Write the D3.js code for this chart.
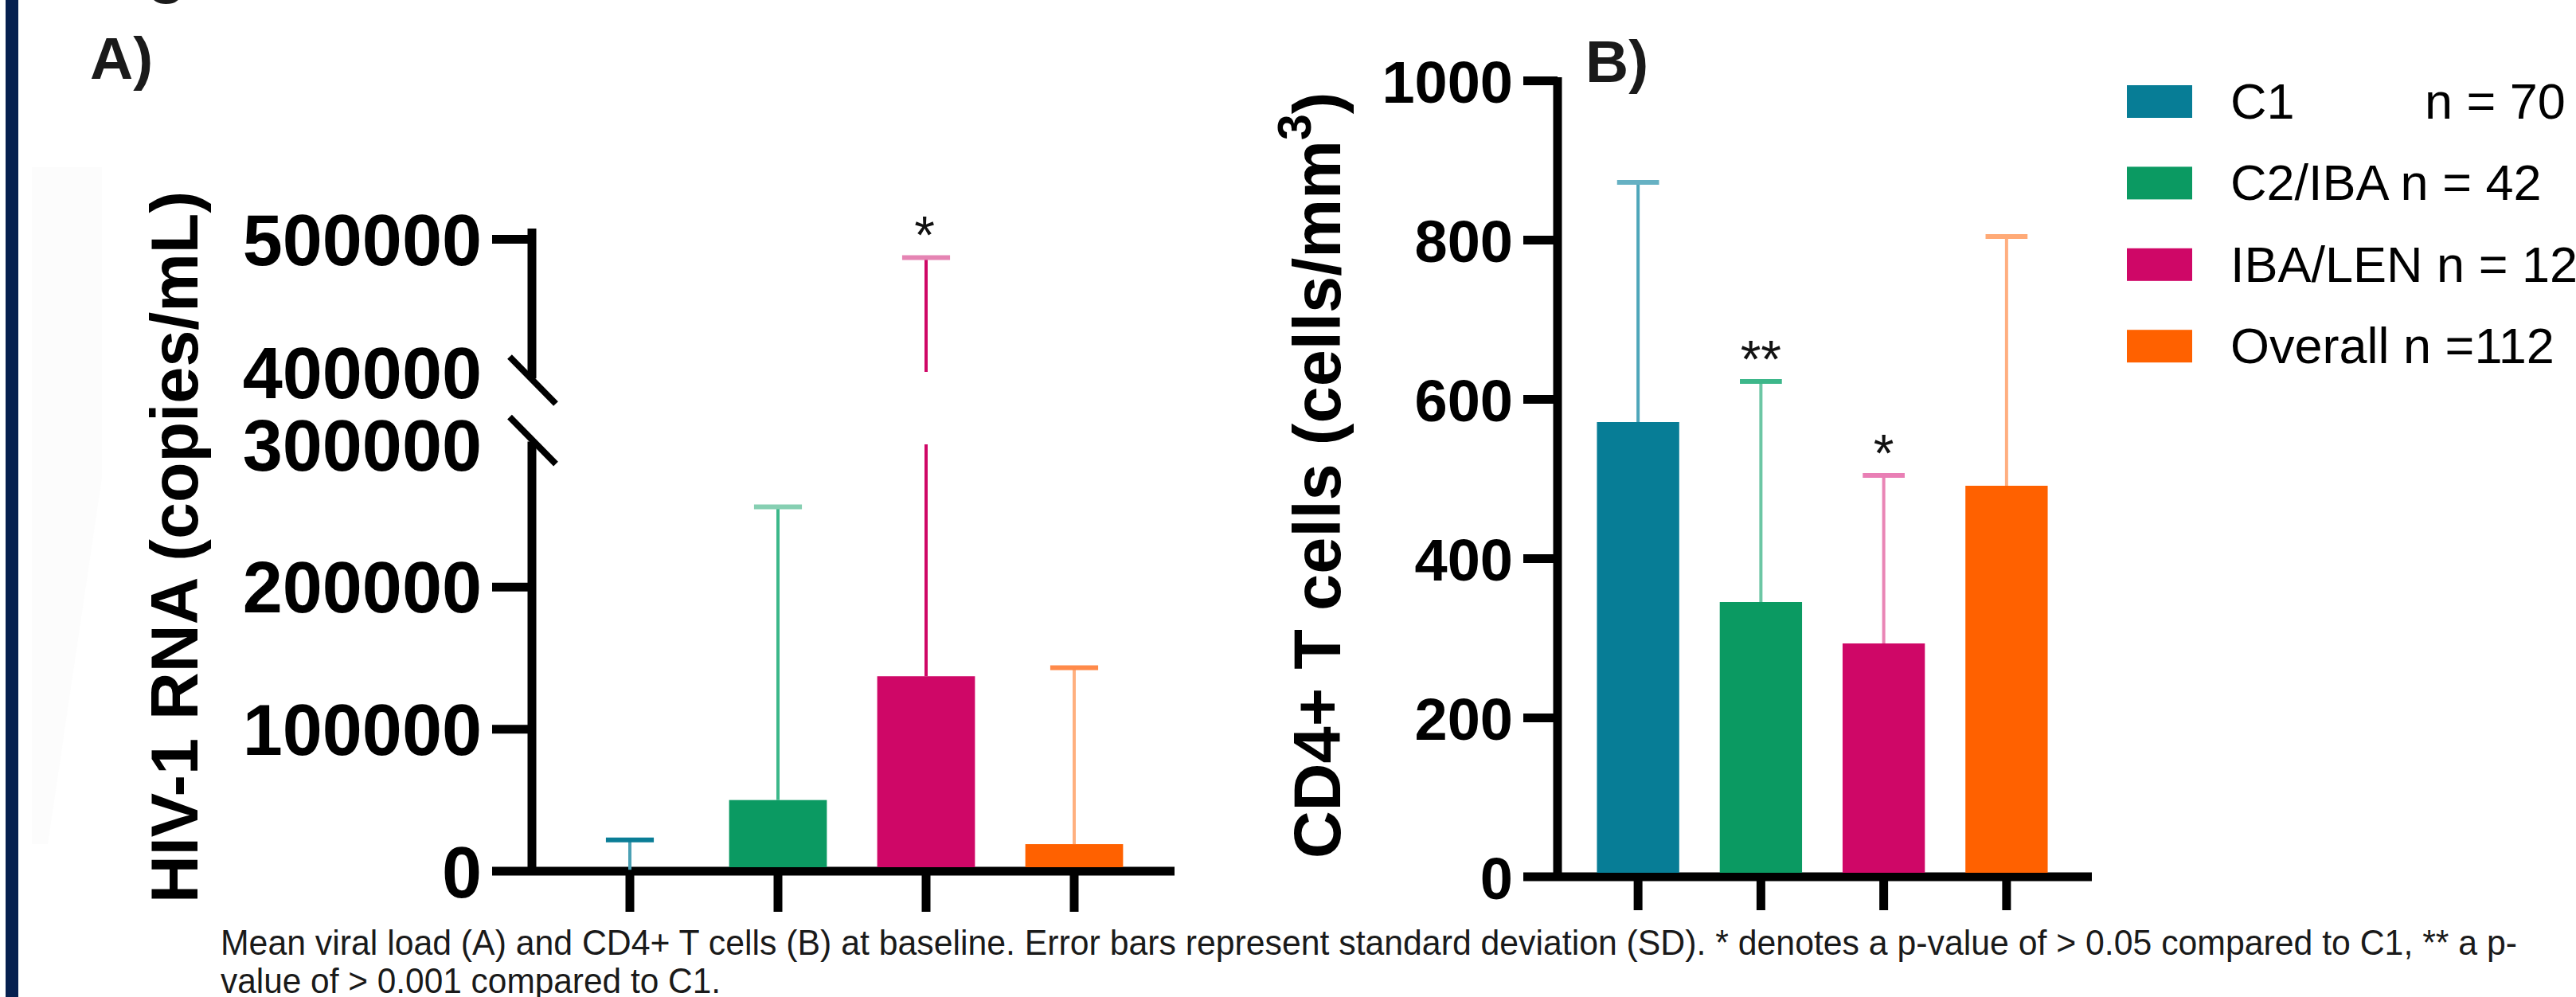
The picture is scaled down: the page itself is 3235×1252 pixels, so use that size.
<!DOCTYPE html>
<html>
<head>
<meta charset="utf-8">
<script src="https://cdn.jsdelivr.net/npm/d3@7"></script>
<style>
  html, body { margin: 0; padding: 0; background: #fff; }
  svg { display: block; }
  text { font-family: "Liberation Sans", Arial, sans-serif; }
</style>
</head>
<body>
<svg id="chart" width="3235" height="1252"></svg>
<script>
// ---------------- data ----------------
const categories = ["C1", "C2/IBA", "IBA/LEN", "Overall"];
const groupN = ["n = 70", "n = 42", "n = 12", "n =112"];
const viralMean = [1000, 50000, 137000, 19000];
const viralSD = [21000, 206000, 349000, 124000];
const viralStars = ["", "", "*", ""];
const viralTicksLow = [0, 100000, 200000, 300000];
const viralTicksHigh = [400000, 500000];
const cd4Mean = [571, 345, 293, 491];
const cd4SD = [301, 277, 211, 313];
const cd4Stars = ["", "**", "*", ""];
const cd4Ticks = [0, 200, 400, 600, 800, 1000];
const captionLines = [
  "Mean viral load (A) and CD4+ T cells (B) at baseline. Error bars represent standard deviation (SD). * denotes a p-value of > 0.05 compared to C1, ** a p-",
  "value of > 0.001 compared to C1."
];

// ---------------- styles ----------------
const fillColors = ["#077d96", "#0b9a62", "#cf0767", "#ff6100"];
const stemColorsA = ["#4aa0b4", "#3cb88a", "#cf0766", "#ffb07f"];
const capColorsA  = ["#0a7d96", "#86cfb2", "#e584b3", "#ff8a4a"];
const stemColorsB = ["#4ea6ba", "#6cc6a4", "#e985b5", "#ffae80"];
const capColorsB  = ["#66b1c3", "#3db78a", "#e97fb5", "#ffaa77"];
const FONT = '"Liberation Sans", Arial, sans-serif';
const AX = 11;

const svg = d3.select("#chart");

// page decorations
svg.append("rect").attr("x", 0).attr("y", 0).attr("width", 3235).attr("height", 1252).attr("fill", "#fff");
svg.append("polygon").attr("points", "40,210 128,210 128,600 60,1060 40,1060").attr("fill", "#fcfcfc");
svg.append("rect").attr("x", 7).attr("y", 0).attr("width", 16).attr("height", 1252).attr("fill", "#06204f");
svg.append("text").attr("x", 185).attr("y", -12).attr("font-size", 80).attr("font-weight", "bold").attr("fill", "#1a1a1a").text("g");

// fit a (rotated) title to a target length by scaling its font size
function fitLength(sel, target) {
  const w = sel.node().getBBox().width;
  const fs = +sel.attr("font-size");
  if (w > 0) sel.attr("font-size", fs * target / w);
  sel.selectAll("tspan").each(function () {
    const t = d3.select(this);
    if (t.attr("data-rel")) {
      const f = +sel.attr("font-size");
      t.attr("font-size", f * +t.attr("data-rel"));
      t.attr("dy", f * +t.attr("data-dy"));
    }
  });
}

// ================= Panel A =================
const gA = svg.append("g");
const xA = d3.scaleBand().domain(categories).range([698, 1442]).paddingInner(0.34).paddingOuter(0.17);
const yLow = d3.scaleLinear().domain([0, 300000]).range([1094, 558]);
const yHigh = d3.scaleLinear().domain([400000, 500000]).range([467, 300]);
const axAx = 668;

gA.append("line").attr("x1", axAx).attr("x2", axAx).attr("y1", yHigh(507800)).attr("y2", yHigh(395000))
  .attr("stroke", "#000").attr("stroke-width", AX);
gA.append("line").attr("x1", axAx).attr("x2", axAx).attr("y1", yLow(0)).attr("y2", yLow(302000))
  .attr("stroke", "#000").attr("stroke-width", AX);
[yHigh(394000), yLow(303000)].forEach(cy => {
  gA.append("line").attr("x1", axAx - 28).attr("y1", cy - 29).attr("x2", axAx + 30).attr("y2", cy + 30)
    .attr("stroke", "#000").attr("stroke-width", 8);
});

function styleYAxis(g, fs, labelDx, baseOff, hideTicks) {
  g.select(".domain").remove();
  g.selectAll(".tick line").attr("stroke", "#000").attr("stroke-width", AX)
    .attr("display", d => hideTicks.includes(d) ? "none" : null);
  g.selectAll(".tick text").attr("font-family", FONT).attr("font-weight", "bold").attr("font-size", fs)
    .attr("fill", "#000").attr("x", labelDx).attr("dy", null).attr("y", baseOff).attr("text-anchor", "end");
}
const axLow = gA.append("g").attr("transform", `translate(${axAx},0)`)
  .call(d3.axisLeft(yLow).tickValues(viralTicksLow).tickSize(50).tickFormat(d3.format("d")));
styleYAxis(axLow, 90, -63, 32, [0, 300000]);
const axHigh = gA.append("g").attr("transform", `translate(${axAx},0)`)
  .call(d3.axisLeft(yHigh).tickValues(viralTicksHigh).tickSize(50).tickFormat(d3.format("d")));
styleYAxis(axHigh, 90, -63, 32, [400000]);

gA.append("line").attr("x1", 618).attr("x2", 1475).attr("y1", yLow(0)).attr("y2", yLow(0))
  .attr("stroke", "#000").attr("stroke-width", AX);
const xAxA = gA.append("g").attr("transform", `translate(0,${yLow(0)})`)
  .call(d3.axisBottom(xA).tickSize(51).tickFormat(""));
xAxA.select(".domain").remove();
xAxA.selectAll(".tick line").attr("stroke", "#000").attr("stroke-width", AX);

function yA(v) { return v <= 300000 ? yLow(v) : yHigh(v); }

gA.selectAll("rect.bar").data(categories).join("rect").attr("class", "bar")
  .attr("x", d => xA(d)).attr("width", xA.bandwidth())
  .attr("y", (d, i) => yA(viralMean[i])).attr("height", (d, i) => yLow(0) - 5 - yA(viralMean[i]))
  .attr("fill", (d, i) => fillColors[i]);

categories.forEach((c, i) => {
  const cx = xA(c) + xA.bandwidth() / 2;
  const top = viralMean[i] + viralSD[i];
  const segs = [];
  if (top <= 300000) segs.push([yLow(viralMean[i]), yLow(top)]);
  else { segs.push([yLow(viralMean[i]), yLow(300000)]); segs.push([yHigh(400000), yHigh(top)]); }
  segs.forEach(s => gA.append("line").attr("x1", cx).attr("x2", cx).attr("y1", s[0]).attr("y2", s[1])
    .attr("stroke", stemColorsA[i]).attr("stroke-width", 4));
  const cw = xA.bandwidth() * 0.49;
  gA.append("line").attr("x1", cx - cw / 2).attr("x2", cx + cw / 2).attr("y1", yA(top)).attr("y2", yA(top))
    .attr("stroke", capColorsA[i]).attr("stroke-width", 6);
  if (viralStars[i]) gA.append("text").attr("x", cx - 2).attr("y", yA(top) - 5).attr("text-anchor", "middle")
    .attr("font-size", 66).attr("fill", "#111").text(viralStars[i]);
});

gA.append("text").attr("x", 113).attr("y", 99).attr("font-size", 75).attr("font-weight", "bold").attr("fill", "#1a1a1a").text("A)");
gA.append("text").attr("transform", "translate(248,687) rotate(-90)").attr("text-anchor", "middle")
  .attr("font-size", 84).attr("font-weight", "bold").attr("fill", "#000")
  .attr("textLength", 894).attr("lengthAdjust", "spacingAndGlyphs").text("HIV-1 RNA (copies/mL)");

// ================= Panel B =================
const gB = svg.append("g");
const xB = d3.scaleBand().domain(categories).range([1980, 2597]).paddingInner(0.33).paddingOuter(0.165);
const yB = d3.scaleLinear().domain([0, 1000]).range([1101, 101]);
const bAx = 1956;

gB.append("line").attr("x1", bAx).attr("x2", bAx).attr("y1", yB(0)).attr("y2", yB(1004))
  .attr("stroke", "#000").attr("stroke-width", AX);
const axB = gB.append("g").attr("transform", `translate(${bAx},0)`)
  .call(d3.axisLeft(yB).tickValues(cd4Ticks).tickSize(43).tickFormat(d3.format("d")));
styleYAxis(axB, 74, -56, 27, [0]);

gB.append("line").attr("x1", 1913).attr("x2", 2627).attr("y1", yB(0)).attr("y2", yB(0))
  .attr("stroke", "#000").attr("stroke-width", AX);
const xAxB = gB.append("g").attr("transform", `translate(0,${yB(0)})`)
  .call(d3.axisBottom(xB).tickSize(42).tickFormat(""));
xAxB.select(".domain").remove();
xAxB.selectAll(".tick line").attr("stroke", "#000").attr("stroke-width", AX);

gB.selectAll("rect.bar").data(categories).join("rect").attr("class", "bar")
  .attr("x", d => xB(d)).attr("width", xB.bandwidth())
  .attr("y", (d, i) => yB(cd4Mean[i])).attr("height", (d, i) => yB(0) - 5 - yB(cd4Mean[i]))
  .attr("fill", (d, i) => fillColors[i]);

categories.forEach((c, i) => {
  const cx = xB(c) + xB.bandwidth() / 2;
  const top = cd4Mean[i] + cd4SD[i];
  gB.append("line").attr("x1", cx).attr("x2", cx).attr("y1", yB(cd4Mean[i])).attr("y2", yB(top))
    .attr("stroke", stemColorsB[i]).attr("stroke-width", 4);
  const cw = xB.bandwidth() * 0.51;
  gB.append("line").attr("x1", cx - cw / 2).attr("x2", cx + cw / 2).attr("y1", yB(top)).attr("y2", yB(top))
    .attr("stroke", capColorsB[i]).attr("stroke-width", 6);
  if (cd4Stars[i]) gB.append("text").attr("x", cx).attr("y", yB(top) - 5).attr("text-anchor", "middle")
    .attr("font-size", 66).attr("fill", "#111").text(cd4Stars[i]);
});

gB.append("text").attr("x", 1991).attr("y", 103).attr("font-size", 75).attr("font-weight", "bold").attr("fill", "#1a1a1a").text("B)");
const tB = gB.append("text").attr("transform", "translate(1683,597) rotate(-90)").attr("text-anchor", "middle")
  .attr("font-size", 84).attr("font-weight", "bold").attr("fill", "#000");
tB.append("tspan").text("CD4+ T cells (cells/mm");
tB.append("tspan").attr("font-size", 60).attr("dy", -38).attr("data-rel", 0.71).attr("data-dy", -0.45).text("3");
tB.append("tspan").attr("dy", 38).attr("data-rel", 1).attr("data-dy", 0.45).text(")");
fitLength(tB, 963);

// ================= Legend =================
const lg = svg.append("g");
categories.forEach((c, i) => {
  const top = 107 + i * 102.4;
  lg.append("rect").attr("x", 2671).attr("y", top).attr("width", 82).attr("height", 41).attr("fill", fillColors[i]);
  const t = lg.append("text").attr("x", 2801).attr("y", top + 42).attr("font-size", 63).attr("fill", "#000");
  t.append("tspan").text(c);
  if (i === 0) t.append("tspan").attr("x", 3045).text(groupN[i]);
  else t.append("tspan").text(" " + groupN[i]);
});

// ================= Caption =================
const capLens = [2884, 628];
captionLines.forEach((line, i) => {
  svg.append("text").attr("x", 277).attr("y", 1199 + i * 48).attr("font-size", 45).attr("fill", "#1a1a1a")
    .attr("textLength", capLens[i]).attr("lengthAdjust", "spacingAndGlyphs").text(line);
});
</script>
</body>
</html>
